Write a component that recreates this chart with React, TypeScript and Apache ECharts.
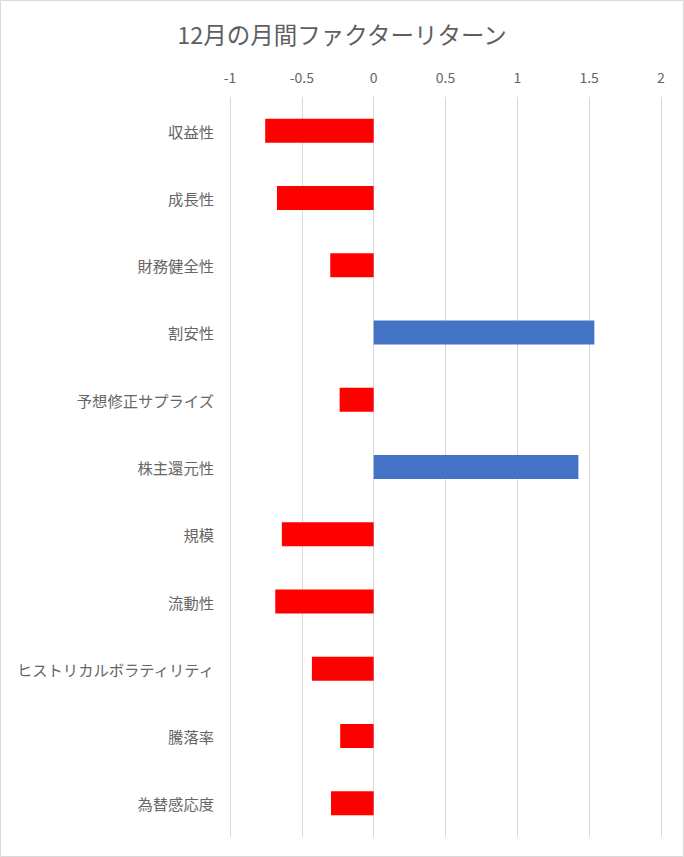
import React, { useEffect, useRef } from "react";
import * as echarts from "echarts";

const title = "12月の月間ファクターリターン";
const categories = [
  "収益性",
  "成長性",
  "財務健全性",
  "割安性",
  "予想修正サプライズ",
  "株主還元性",
  "規模",
  "流動性",
  "ヒストリカルボラティリティ",
  "騰落率",
  "為替感応度",
];
const returns = [-0.755, -0.673, -0.302, 1.536, -0.237, 1.425, -0.639, -0.685, -0.43, -0.233, -0.297];
const axisMin = -1;
const axisMax = 2;
const axisStep = 0.5;

const FONT = '"Noto Sans CJK JP", "Noto Sans", sans-serif';

export default function App() {
  const ref = useRef<HTMLDivElement>(null);
  useEffect(() => {
    document.body.style.margin = "0";
    const chart = echarts.init(ref.current!, null, { renderer: "svg" });
    chart.setOption({
      animation: false,
      backgroundColor: "#ffffff",
      title: {
        text: title,
        left: "center",
        top: 17,
        textStyle: { fontFamily: FONT, fontSize: 23.5, fontWeight: "normal", color: "#5f5f5f" },
      },
      graphic: [
        {
          type: "rect",
          shape: { x: 0.5, y: 0.5, width: 683, height: 856 },
          style: { fill: "none", stroke: "#d9d9d9", lineWidth: 1 },
          silent: true,
        },
      ],
      grid: { left: 230, right: 23, top: 97, bottom: 20, containLabel: false },
      xAxis: {
        type: "value",
        position: "top",
        min: axisMin,
        max: axisMax,
        interval: axisStep,
        axisLine: { show: false },
        axisTick: { show: false },
        axisLabel: { margin: 13, color: "#666666", fontSize: 14, fontFamily: FONT },
        splitLine: { show: true, lineStyle: { color: "#d9d9d9", width: 1 } },
      },
      yAxis: {
        type: "category",
        inverse: true,
        data: categories,
        axisLine: { show: true, lineStyle: { color: "#d9d9d9" } },
        axisTick: { show: false },
        axisLabel: { margin: 16, color: "#666666", fontSize: 15.3, fontFamily: FONT },
      },
      series: [
        {
          type: "bar",
          data: returns,
          barWidth: 24,
          itemStyle: {
            color: (p: any) => (p.value < 0 ? "#ff0000" : "#4472c4"),
          },
        },
      ],
    });
    return () => chart.dispose();
  }, []);
  return <div ref={ref} style={{ width: 684, height: 857 }} />;
}
